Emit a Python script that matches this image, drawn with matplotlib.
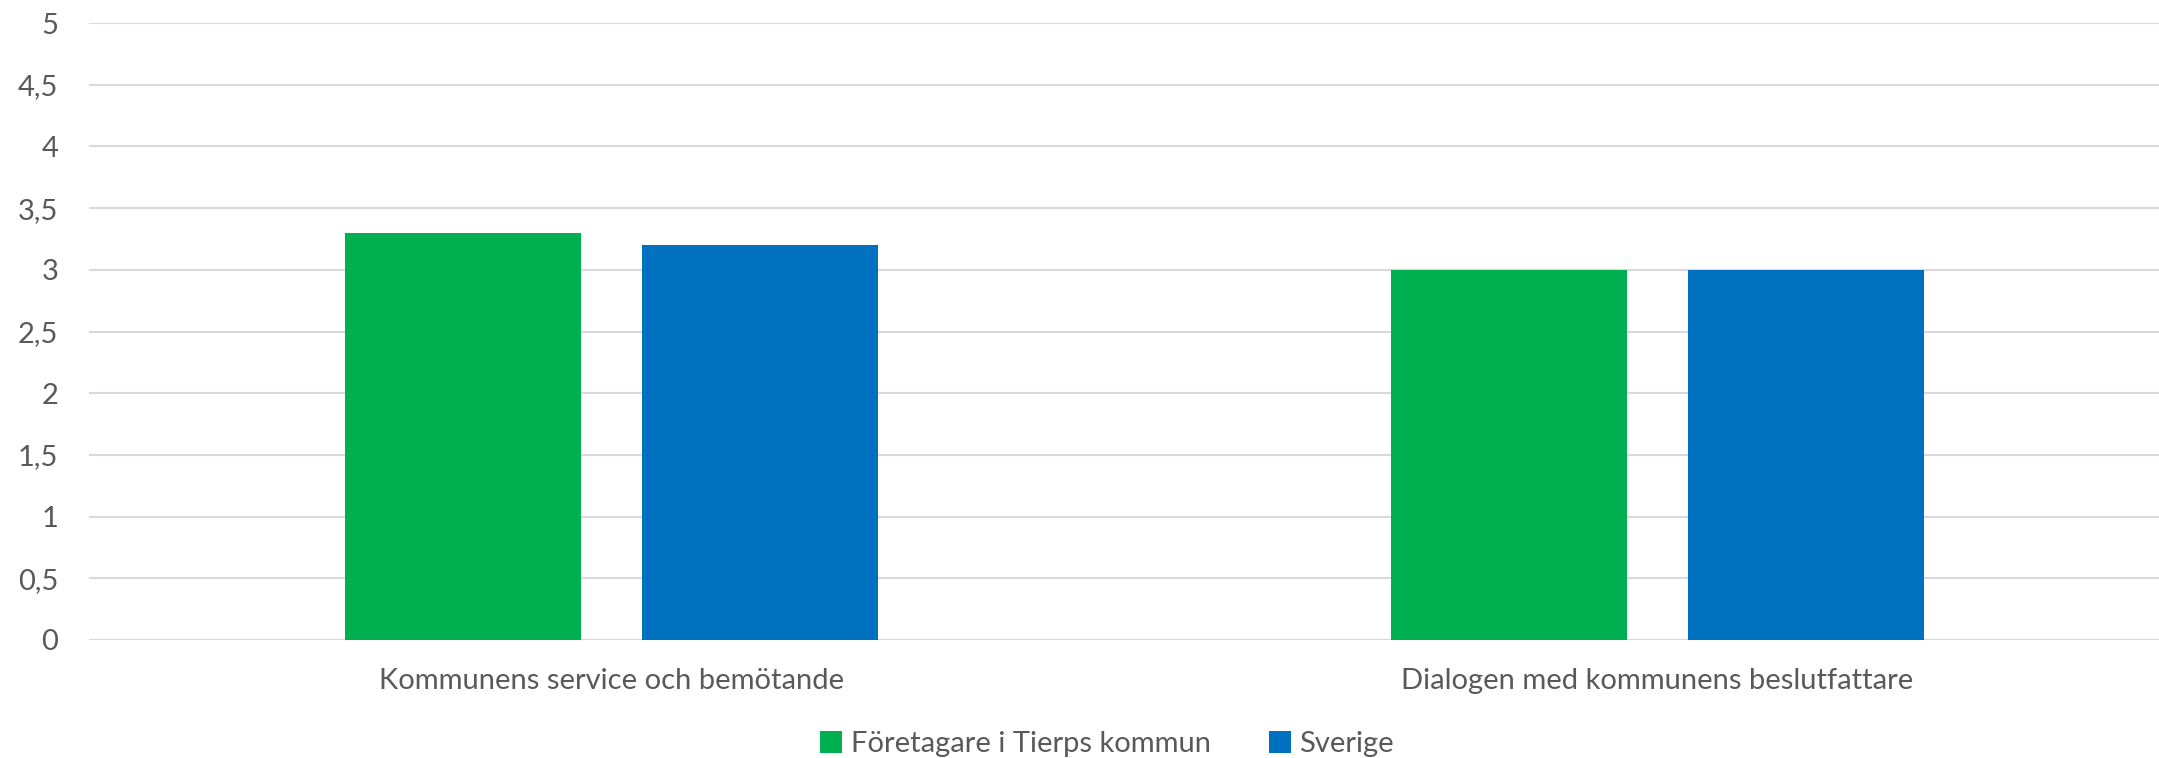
import matplotlib.pyplot as plt
import numpy as np

categories = ['Kommunens service och bemötande', 'Dialogen med kommunens beslutfattare']
tierp = [3.3, 3.0]
sverige = [3.2, 3.0]
series_names = ['Företagare i Tierps kommun', 'Sverige']
yticks = [0, 0.5, 1, 1.5, 2, 2.5, 3, 3.5, 4, 4.5, 5]

plt.rcParams['font.family'] = ['Lato', 'DejaVu Sans']
txt = '#595959'

fig = plt.figure(figsize=(21.59, 7.58), dpi=100)
ax = fig.add_axes([89 / 2159, 1 - 640 / 758, (2180 - 89) / 2159, (640 - 23) / 758])

x = np.arange(len(categories))
w = 0.226
off = 0.142
ax.bar(x - off, tierp, w, color='#00B050', label=series_names[0], zorder=3)
ax.bar(x + off, sverige, w, color='#0070C0', label=series_names[1], zorder=3)

ax.set_xlim(-0.5, 1.5)
ax.set_ylim(0, 5)
ax.set_yticks(yticks)
ax.set_yticklabels([str(v).replace('.', ',') if v % 1 else str(int(v)) for v in yticks])
ax.set_xticks(x)
ax.set_xticklabels(categories)
ax.tick_params(axis='both', length=0, colors=txt, labelsize=21)
ax.tick_params(axis='y', pad=22)
ax.tick_params(axis='x', pad=20)
ax.yaxis.grid(True, color='#D9D9D9', linewidth=1.5, zorder=0)
for s in ax.spines.values():
    s.set_visible(False)
ax.axhline(0, color='#D9D9D9', linewidth=1.5, zorder=2)

fig.legend(loc='center', bbox_to_anchor=(1107 / 2159, 1 - 744 / 758), ncol=2, frameon=False,
           fontsize=21, labelcolor=txt, handlelength=0.75, handleheight=0.75,
           handletextpad=0.3, columnspacing=2.0)

fig.savefig('out.png', dpi=100)
